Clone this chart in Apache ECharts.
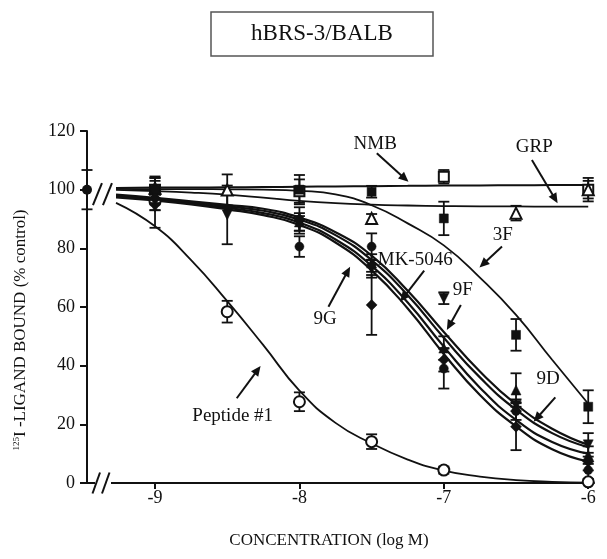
<!DOCTYPE html>
<html><head><meta charset="utf-8">
<script src="https://cdn.jsdelivr.net/npm/echarts@6/dist/echarts.min.js"></script>
<style>html,body{margin:0;padding:0;background:#fff}#c{width:607px;height:559px}</style>
</head><body><div id="c"></div>
<script>
const FONT = '"Liberation Serif", "Times New Roman", serif';
const BLACK = '#111';

// ---- data ----
const pointX = [-9, -8.5, -8, -7.5, -7, -6.5, -6];
const xTickValues = [-9, -8, -7, -6];
const controlX = -9.471;
const controlY = 100;
const controlErr = 6.7;

const peptideY   = [96, 58.4, 27.7, 14.1, 4.4, null, 0.4];
const peptideErr = [3, 3.7, 3.2, 2.5, 1.2, null, 0.4];
const nmbY   = [100, null, 99.5, null, 104.4, null, 100];
const nmbErr = [3, null, 4, null, 2.3, null, 4];
const grpY   = [100.5, 99.9, null, 90.2, null, 92, 100];
const grpErr = [4, 5.3, null, 1.5, null, 2.5, 3];
const f3Y    = [100, null, 100, 99.3, 90.2, 50.5, 26];
const f3Err  = [4, null, 5, 2, 5.7, 5.4, 5.6];
const f9Y    = [94, 91.4, 88, 73, 63, 26.5, 13];
const f9Err  = [7, 10, 3, 3, 2, 2, 4];
const mkY    = [98, null, 89, 75, 46, 31.7, 9.5];
const mkErr  = [3, null, 3, 3, 4, 5.7, 3];
const g9Y    = [97, null, 90, 60.7, 42, 19.2, 7.3];
const g9Err  = [4, null, 4, 10.2, 4, 8, 3];
const d9Y    = [100, null, 80.6, 80.6, 39, 24.5, 4.4];
const d9Err  = [4, null, 3.5, 4.5, 6.8, 3, 3];

// fitted curves
const curveX = [-9.27, -9, -8.75, -8.5, -8.25, -8, -7.75, -7.5, -7.25, -7, -6.75, -6.5, -6.25, -6];
const peptideCurve = [95.5, 87.5, 76, 62, 47, 31.5, 20.5, 13.5, 8, 4.2, 2.2, 1, 0.4, 0.1];
const nmbCurve = [100.6, 100.7, 100.75, 100.8, 100.9, 101, 101.1, 101.2, 101.3, 101.4, 101.45, 101.5, 101.55, 101.6];
const grpCurve = [99.9, 99.5, 99, 98.3, 97.3, 96.2, 95.4, 94.9, 94.6, 94.4, 94.3, 94.3, 94.2, 94.2];
const f3Curve  = [100.3, 100.2, 100.2, 100.1, 100, 99.6, 98.4, 94.7, 88.5, 81, 70, 57.3, 42, 27];
const f9Curve  = [98.3, 97.2, 96, 94.8, 93.5, 90.5, 85.5, 77.5, 65.5, 51.5, 38, 26.8, 18.5, 13];
const mkCurve  = [98, 96.9, 95.7, 94.3, 92.8, 89.8, 84.5, 76, 64, 49.5, 36, 25, 17, 12.2];
const d9Curve  = [97.7, 96.6, 95.3, 93.8, 92, 88.8, 83, 74, 61.5, 46.5, 32.5, 21.5, 14, 10];
const g9Curve  = [97.4, 96.3, 95, 93.3, 91.3, 88, 82, 72.5, 59.5, 44, 30, 19.3, 11.5, 7.3];

// annotations (data coordinates)
const annotationLabels = ['NMB', 'GRP', '3F', 'MK-5046', '9F', '9G', '9D', 'Peptide #1'];
const annotationText = [[-7.475, 115.6], [-6.374, 114.7], [-6.592, 84.6], [-7.198, 76.0], [-6.869, 65.8], [-7.822, 55.9], [-6.277, 35.5], [-8.462, 23.0]];
const annotationArrows = [[-7.464, 112.4, -7.245, 102.7], [-6.39, 110.1, -6.212, 95.4], [-6.597, 80.6, -6.753, 73.5], [-7.136, 72.4, -7.302, 61.8], [-6.882, 60.7, -6.979, 52.2], [-7.799, 60.1, -7.649, 73.7], [-6.228, 29.2, -6.378, 20.9], [-8.434, 28.9, -8.269, 39.9]];
const axisBreaks = [[-9.374, 0, 1], [-9.364, 98.5, 0]];

// ---- helpers ----
function pts(ys) { return pointX.map((x, i) => ys[i] == null ? null : [x, ys[i]]).filter(Boolean); }
function errs(ys, es) { return pointX.map((x, i) => (ys[i] == null || es[i] == null) ? null : [x, ys[i] - es[i], ys[i] + es[i]]).filter(Boolean); }
function curve(ys) { return curveX.map((x, i) => [x, ys[i]]); }

const groups = [
  { name: 'Peptide #1', y: peptideY, e: peptideErr, c: peptideCurve, symbol: 'circle', open: true, size: 11, lw: 1.8 },
  { name: 'NMB', y: nmbY, e: nmbErr, c: nmbCurve, symbol: 'rect', open: true, size: 10, lw: 2 },
  { name: 'GRP', y: grpY, e: grpErr, c: grpCurve, symbol: 'triangle', open: true, size: 11, lw: 1.8 },
  { name: '3F', y: f3Y, e: f3Err, c: f3Curve, symbol: 'rect', open: false, size: 9, lw: 1.8 },
  { name: '9F', y: f9Y, e: f9Err, c: f9Curve, symbol: 'triangle', rotate: 180, open: false, size: 10, lw: 2.2 },
  { name: 'MK-5046', y: mkY, e: mkErr, c: mkCurve, symbol: 'triangle', open: false, size: 10, lw: 2.2 },
  { name: '9D', y: d9Y, e: d9Err, c: d9Curve, symbol: 'circle', open: false, size: 9, lw: 2.2 },
  { name: '9G', y: g9Y, e: g9Err, c: g9Curve, symbol: 'diamond', open: false, size: 11, lw: 2.2 }
];

function renderErr(params, api) {
  const x = api.value(0), lo = api.value(1), hi = api.value(2);
  const a = api.coord([x, lo]), b = api.coord([x, hi]);
  const w = 5.5;
  const st = { stroke: BLACK, lineWidth: 1.8 };
  return { type: 'group', children: [
    { type: 'line', shape: { x1: a[0], y1: a[1], x2: b[0], y2: b[1] }, style: st },
    { type: 'line', shape: { x1: a[0] - w, y1: a[1], x2: a[0] + w, y2: a[1] }, style: st },
    { type: 'line', shape: { x1: b[0] - w, y1: b[1], x2: b[0] + w, y2: b[1] }, style: st }
  ] };
}

function renderAnno(params, api) {
  const i = params.dataIndex;
  const t = api.coord([api.value(0), api.value(1)]);
  const tail = api.coord([api.value(2), api.value(3)]);
  const head = api.coord([api.value(4), api.value(5)]);
  const dx = head[0] - tail[0], dy = head[1] - tail[1];
  const len = Math.sqrt(dx * dx + dy * dy);
  const ux = dx / len, uy = dy / len, nx = -uy, ny = ux;
  const L = 10, hw = 4.5;
  const bx = head[0] - L * ux, by = head[1] - L * uy;
  return { type: 'group', children: [
    { type: 'text', style: { text: annotationLabels[i], x: t[0], y: t[1], font: '19px ' + FONT, fill: BLACK, align: 'center', verticalAlign: 'middle' } },
    { type: 'line', shape: { x1: tail[0], y1: tail[1], x2: bx + 2 * ux, y2: by + 2 * uy }, style: { stroke: BLACK, lineWidth: 2 } },
    { type: 'polygon', shape: { points: [[head[0], head[1]], [bx + hw * nx, by + hw * ny], [bx - hw * nx, by - hw * ny]] }, style: { fill: BLACK } }
  ] };
}

function renderBreak(params, api) {
  const p = api.coord([api.value(0), api.value(1)]);
  const onAxis = api.value(2) === 1;
  const st = { stroke: BLACK, lineWidth: 2 };
  const ch = [];
  if (onAxis) {
    ch.push({ type: 'rect', shape: { x: p[0] - 6, y: p[1] - 3, width: 16, height: 6 }, style: { fill: '#fff' } });
    ch.push({ type: 'line', shape: { x1: p[0] - 8.5, y1: p[1] + 10.5, x2: p[0] - 1, y2: p[1] - 10.5 }, style: st });
    ch.push({ type: 'line', shape: { x1: p[0] + 1, y1: p[1] + 10.5, x2: p[0] + 8.5, y2: p[1] - 10.5 }, style: st });
  } else {
    ch.push({ type: 'line', shape: { x1: p[0] - 9.5, y1: p[1] + 11, x2: p[0] - 0.5, y2: p[1] - 11 }, style: st });
    ch.push({ type: 'line', shape: { x1: p[0] + 0.5, y1: p[1] + 11, x2: p[0] + 9.5, y2: p[1] - 11 }, style: st });
  }
  return { type: 'group', children: ch };
}

const series = [];
// error bars
groups.forEach(g => {
  series.push({ type: 'custom', name: g.name + ' err', data: errs(g.y, g.e), renderItem: renderErr, encode: { x: 0, y: [1, 2] }, z: 2, silent: true, clip: false });
});
series.push({ type: 'custom', name: 'control err', data: [[controlX, controlY - controlErr, controlY + controlErr]], renderItem: renderErr, encode: { x: 0, y: [1, 2] }, z: 2, clip: false });
// curves
groups.forEach(g => {
  series.push({ type: 'line', name: g.name + ' fit', data: curve(g.c), smooth: 0.5, symbol: 'none', lineStyle: { color: BLACK, width: g.lw }, z: 3, silent: true, clip: false });
});
// markers
groups.forEach(g => {
  series.push({ type: 'scatter', name: g.name, data: pts(g.y), symbol: g.symbol, symbolSize: g.size, symbolRotate: g.rotate || 0,
    itemStyle: g.open ? { color: '#fff', borderColor: BLACK, borderWidth: 2, opacity: 1 } : { color: BLACK, borderColor: BLACK, borderWidth: 0.5, opacity: 1 }, z: 4, clip: false });
});
series.push({ type: 'scatter', name: 'control', data: [[controlX, controlY]], symbol: 'circle', symbolSize: 10, itemStyle: { color: BLACK, opacity: 1 }, z: 4, clip: false });
// decorations
series.push({ type: 'custom', name: 'breaks', data: axisBreaks, renderItem: renderBreak, encode: { x: 0, y: 1 }, z: 5, clip: false, silent: true });
series.push({ type: 'custom', name: 'annotations', data: annotationText.map((p, i) => [p[0], p[1]].concat(annotationArrows[i])), renderItem: renderAnno, encode: { x: 0, y: 1 }, z: 6, clip: false, silent: true });

const chart = echarts.init(document.getElementById('c'));
chart.setOption({
  animation: false,
  backgroundColor: '#fff',
  grid: { left: 87, right: 13, top: 131, bottom: 76, containLabel: false, outerBoundsMode: 'none' },
  xAxis: {
    type: 'value', min: -9.471, max: -5.96,
    axisLine: { show: true, onZero: false, lineStyle: { color: BLACK, width: 2 } },
    axisTick: { show: true, customValues: xTickValues, length: 6, lineStyle: { color: BLACK, width: 2 } },
    axisLabel: { customValues: xTickValues, margin: 6, color: BLACK, fontFamily: FONT, fontSize: 18 },
    splitLine: { show: false }
  },
  yAxis: {
    type: 'value', min: 0, max: 120, interval: 20,
    axisLine: { show: true, lineStyle: { color: BLACK, width: 2 } },
    axisTick: { show: true, length: 7, lineStyle: { color: BLACK, width: 2 } },
    axisLabel: { margin: 12, color: BLACK, fontFamily: FONT, fontSize: 18 },
    splitLine: { show: false }
  },
  graphic: [
    { type: 'rect', shape: { x: 211, y: 12, width: 222, height: 44 }, style: { fill: '#fff', stroke: '#555', lineWidth: 1.5 } },
    { type: 'text', x: 322, y: 34, style: { text: 'hBRS-3/BALB', font: '23px ' + FONT, fill: BLACK, align: 'center', verticalAlign: 'middle' } },
    { type: 'text', x: 329, y: 541, style: { text: 'CONCENTRATION (log M)', font: '17px ' + FONT, fill: BLACK, align: 'center', verticalAlign: 'middle' } },
    { type: 'text', x: 21, y: 330, rotation: Math.PI / 2, style: {
        text: '{s|125}{n|I -LIGAND BOUND (% control)}', fill: BLACK, align: 'center', verticalAlign: 'middle',
        rich: { s: { fontSize: 9, fontFamily: FONT, fill: BLACK, verticalAlign: 'top', lineHeight: 18 }, n: { fontSize: 17, fontFamily: FONT, fill: BLACK, lineHeight: 18 } } } }
  ],
  series: series
});
</script>
</body></html>
